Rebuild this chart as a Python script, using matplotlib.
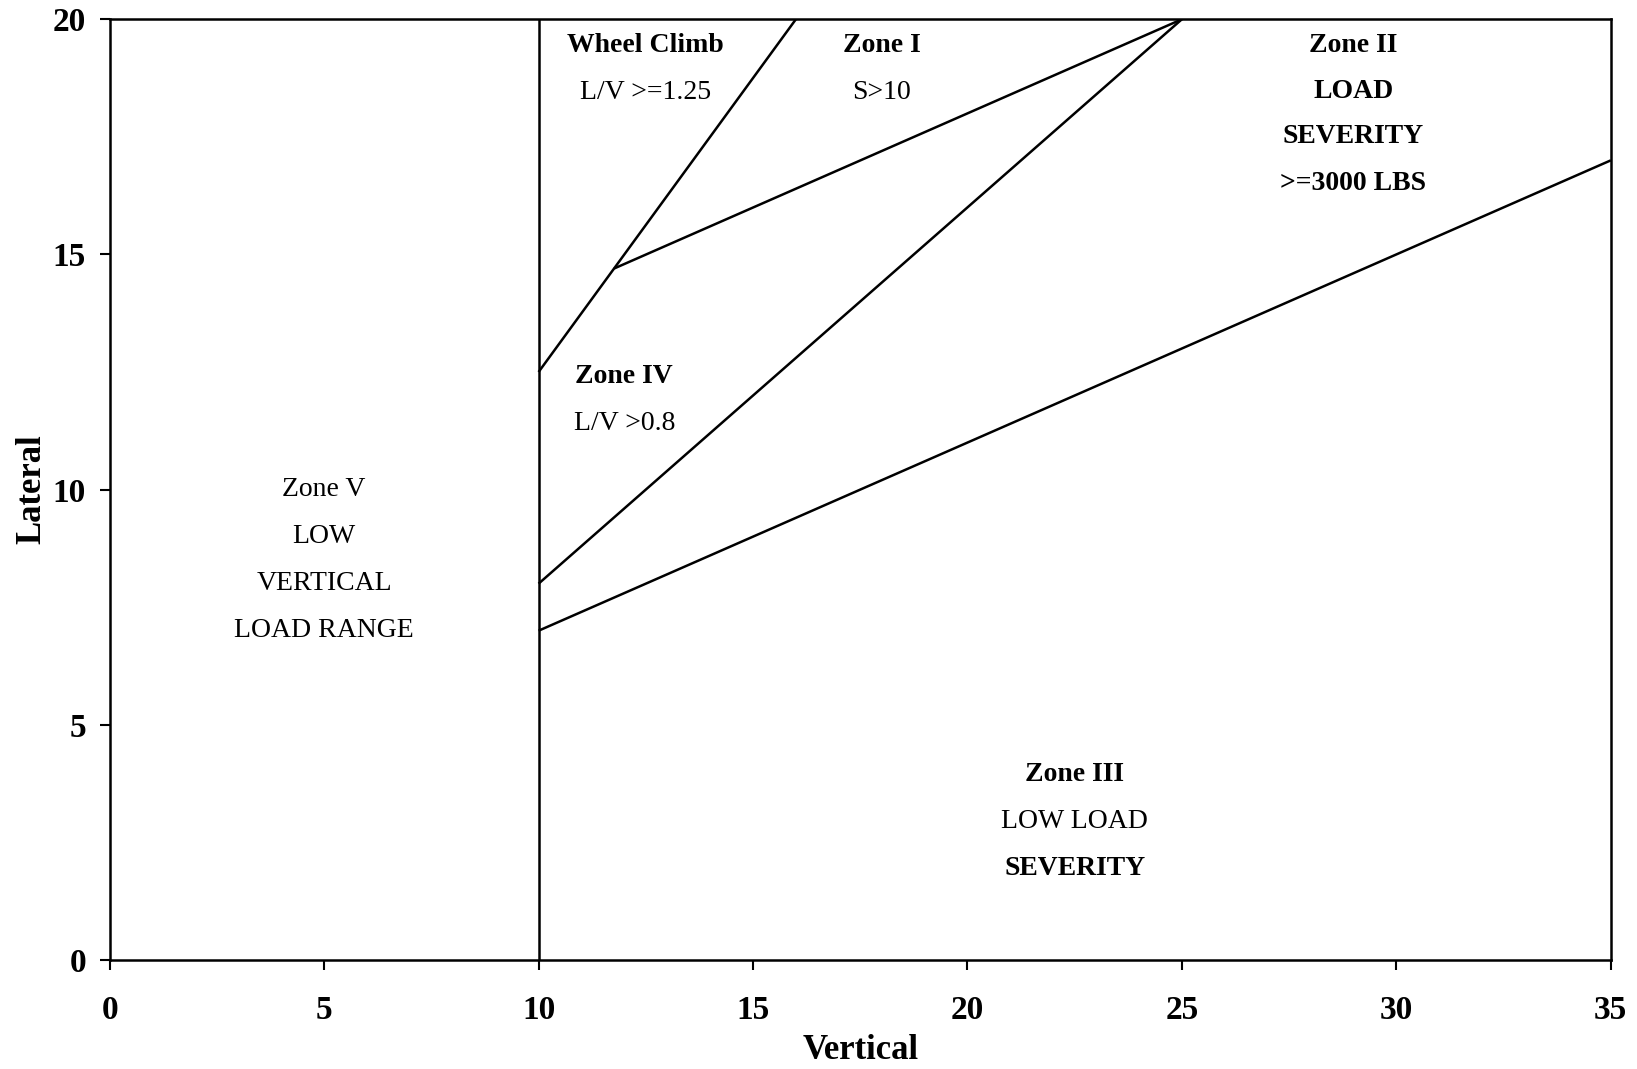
import matplotlib
matplotlib.use("Agg")
import matplotlib.pyplot as plt

plt.rcParams['font.family'] = ['Liberation Serif', 'DejaVu Serif']

# zone boundaries (Vertical, Lateral)
low_vertical_x = [10, 10]
low_vertical_y = [0, 20]
climb_x = [10, 16]
climb_y = [12.5, 20]
lv08_x = [10, 25]
lv08_y = [8, 20]
s10_x = [11.76, 25]
s10_y = [14.7, 20]
severity_x = [10, 35]
severity_y = [7, 17]

# zone labels: (x, y, text, weight)
labels = [
    (5, 10, "Zone V", "normal"),
    (5, 9, "LOW", "normal"),
    (5, 8, "VERTICAL", "normal"),
    (5, 7, "LOAD RANGE", "normal"),
    (12.5, 19.45, "Wheel Climb", "bold"),
    (12.5, 18.45, "L/V >=1.25", "normal"),
    (18, 19.45, "Zone I", "bold"),
    (18, 18.45, "S>10", "normal"),
    (29, 19.45, "Zone II", "bold"),
    (29, 18.47, "LOAD", "bold"),
    (29, 17.5, "SEVERITY", "bold"),
    (29, 16.5, ">=3000 LBS", "bold"),
    (12, 12.4, "Zone IV", "bold"),
    (12, 11.4, "L/V >0.8", "normal"),
    (22.5, 3.95, "Zone III", "bold"),
    (22.5, 2.95, "LOW LOAD", "normal"),
    (22.5, 1.95, "SEVERITY", "bold"),
]

xticks = [0, 5, 10, 15, 20, 25, 30, 35]
yticks = [0, 5, 10, 15, 20]

fig = plt.figure(figsize=(16.37, 10.69), dpi=100)
ax = fig.add_axes([0.067, 0.102, 0.917, 0.880])

lw = 1.8
for xs, ys in [(low_vertical_x, low_vertical_y), (climb_x, climb_y),
               (lv08_x, lv08_y), (s10_x, s10_y), (severity_x, severity_y)]:
    ax.plot(xs, ys, color='black', lw=lw, solid_capstyle='butt')

for x, y, t, w in labels:
    ax.text(x, y, t, ha='center', va='center', fontsize=20, fontweight=w)

ax.set_xlim(0, 35)
ax.set_ylim(0, 20)
ax.set_xticks(xticks)
ax.set_yticks(yticks)
ax.tick_params(direction='out', length=7, width=1.5, labelsize=24)
ax.tick_params(axis='x', pad=18)
ax.tick_params(axis='y', pad=10)
for lab in ax.get_xticklabels() + ax.get_yticklabels():
    lab.set_fontweight('bold')
for s in ax.spines.values():
    s.set_linewidth(1.8)

ax.set_xlabel("Vertical", fontsize=25, fontweight='bold', labelpad=6)
ax.set_ylabel("Lateral", fontsize=25, fontweight='bold', labelpad=3)

fig.savefig("out.png", dpi=100)
